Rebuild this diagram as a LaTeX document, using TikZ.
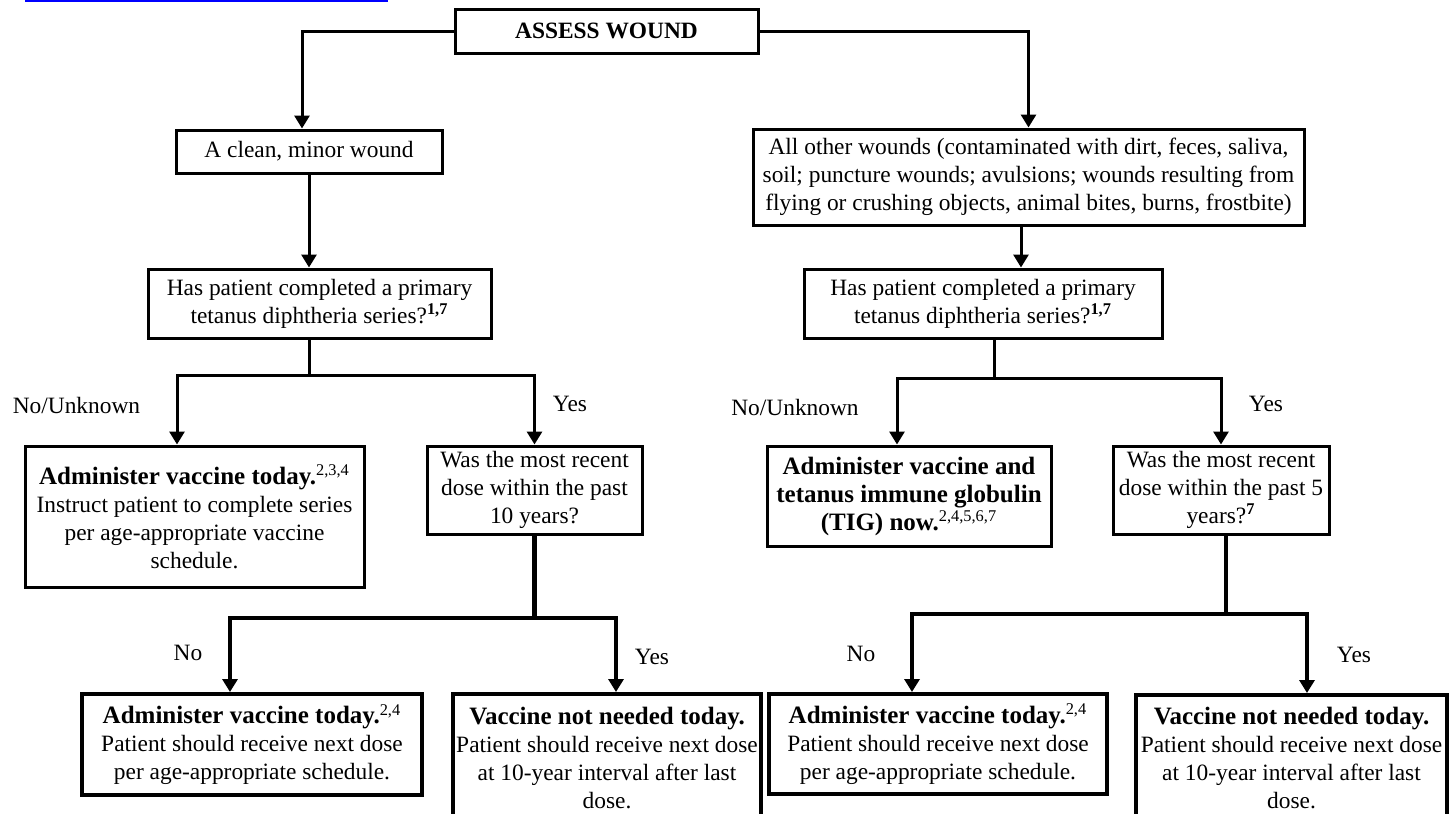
\documentclass[tikz,border=0pt]{standalone}
\usepackage{fontspec}
\setmainfont{Liberation Serif}
\usetikzlibrary{arrows.meta,calc}

\newcommand{\hd}[1]{{\fontsize{12.5}{14}\selectfont\bfseries #1}}

\begin{document}
\begin{tikzpicture}[x=0.5pt,y=-0.5pt]
\tikzstyle{box} = [draw, line width=1.5pt, align=center, inner sep=1pt, font=\fontsize{11.7}{14}\selectfont];
\tikzstyle{bigbox} = [box, line width=2pt];
\tikzstyle{lbl} = [font=\fontsize{11.7}{14}\selectfont];
\tikzstyle{wire} = [line width=1.5pt];
\tikzstyle{bigwire} = [line width=2.2pt];
\tikzstyle{arr} = [-{Triangle[width=7.5pt,length=6.5pt]}, line width=1.5pt];
\tikzstyle{bigarr} = [-{Triangle[width=7.5pt,length=6.5pt]}, line width=2.2pt];

\useasboundingbox (0,0) rectangle (1452,814);
\fill[blue] (25,0) rectangle (388,2);

\node[box, minimum width=151.5pt, minimum height=22pt] (assess) at (606.5,31) {\bfseries ASSESS WOUND};
\node[box, minimum width=133pt, minimum height=21.5pt] (clean) at (309,151.5) {A clean, minor wound};
\node[box, minimum width=275.5pt, minimum height=48pt] (other) at (1028.5,177)
  {All other wounds (contaminated with dirt, feces, saliva,\\soil; puncture wounds; avulsions; wounds resulting from\\flying or crushing objects, animal bites, burns, frostbite)};
\node[box, minimum width=171.5pt, minimum height=34.5pt] (q1l) at (319.5,303.5)
  {Has patient completed a primary\\tetanus diphtheria series?\textsuperscript{\bfseries 1,7}};
\node[box, minimum width=179pt, minimum height=34.5pt] (q1r) at (983,303.5)
  {Has patient completed a primary\\tetanus diphtheria series?\textsuperscript{\bfseries 1,7}};

\node[box, minimum width=169.5pt, minimum height=70.5pt] (adm1) at (194.5,516.5)
  {\hd{Administer vaccine today.}\textsuperscript{2,3,4}\\Instruct patient to complete series\\per age-appropriate vaccine\\schedule.};
\node[box, minimum width=107.5pt, minimum height=44pt] (q2l) at (534.5,490)
  {Was the most recent\\dose within the past\\10 years?};
\node[box, minimum width=142pt, minimum height=50pt] (tig) at (909,496)
  {\hd{Administer vaccine and}\\\hd{tetanus immune globulin}\\\hd{(TIG) now.}\textsuperscript{2,4,5,6,7}};
\node[box, minimum width=108pt, minimum height=44pt] (q2r) at (1221,490)
  {Was the most recent\\dose within the past 5\\years?\textsuperscript{\bfseries 7}};

\node[bigbox, minimum width=170pt, minimum height=50.5pt] (adm2) at (252,744.5)
  {\hd{Administer vaccine today.}\textsuperscript{2,4}\\Patient should receive next dose\\per age-appropriate schedule.};
\node[bigbox, minimum width=154pt, minimum height=63.5pt] (vnn1) at (607,757.5)
  {\hd{Vaccine not needed today.}\\Patient should receive next dose\\at 10-year interval after last\\dose.};
\node[bigbox, minimum width=169pt, minimum height=50pt] (adm3) at (938,744)
  {\hd{Administer vaccine today.}\textsuperscript{2,4}\\Patient should receive next dose\\per age-appropriate schedule.};
\node[bigbox, minimum width=155.5pt, minimum height=63pt] (vnn2) at (1291.5,758)
  {\hd{Vaccine not needed today.}\\Patient should receive next dose\\at 10-year interval after last\\dose.};

\node[lbl] (nul) at (76.5,405) {No/Unknown};
\node[lbl] (yl) at (570,404) {Yes};
\node[lbl] (nur) at (795,407) {No/Unknown};
\node[lbl] (yr) at (1266,404) {Yes};
\node[lbl] (nl2) at (188,653) {No};
\node[lbl] (yl2) at (652,657) {Yes};
\node[lbl] (nr2) at (861,654) {No};
\node[lbl] (yr2) at (1354,655) {Yes};

\draw[arr] (assess.west) -| ($(clean.north)+(-7,0)$);
\draw[arr] (assess.east) -| (other.north);
\draw[arr] (clean.south) -- (clean.south |- q1l.north);
\draw[arr] ($(other.south)+(-7.5,0)$) -- ($(other.south |- q1r.north)+(-7.5,0)$);

\coordinate (jl) at (309,375);
\draw[wire] (q1l.south -| jl) -- (jl);
\draw[arr] (jl) -| ($(adm1.north)+(-17.5,0)$);
\draw[arr] (jl) -| (q2l.north);
\coordinate (jl2) at (534.5,618);
\draw[bigwire] (q2l.south) -- (jl2);
\draw[bigarr] (jl2) -| ($(adm2.north)+(-22,0)$);
\draw[bigarr] (jl2) -| ($(vnn1.north)+(9,0)$);

\coordinate (jr) at (994,378);
\draw[wire] (q1r.south -| jr) -- (jr);
\draw[arr] (jr) -| ($(tig.north)+(-12,0)$);
\draw[arr] (jr) -| (q2r.north);
\coordinate (jr2) at (1226,614);
\draw[bigwire] (q2r.south -| jr2) -- (jr2);
\draw[bigarr] (jr2) -| ($(adm3.north)+(-26,0)$);
\draw[bigarr] (jr2) -| ($(vnn2.north)+(15.5,0)$);
\end{tikzpicture}
\end{document}
